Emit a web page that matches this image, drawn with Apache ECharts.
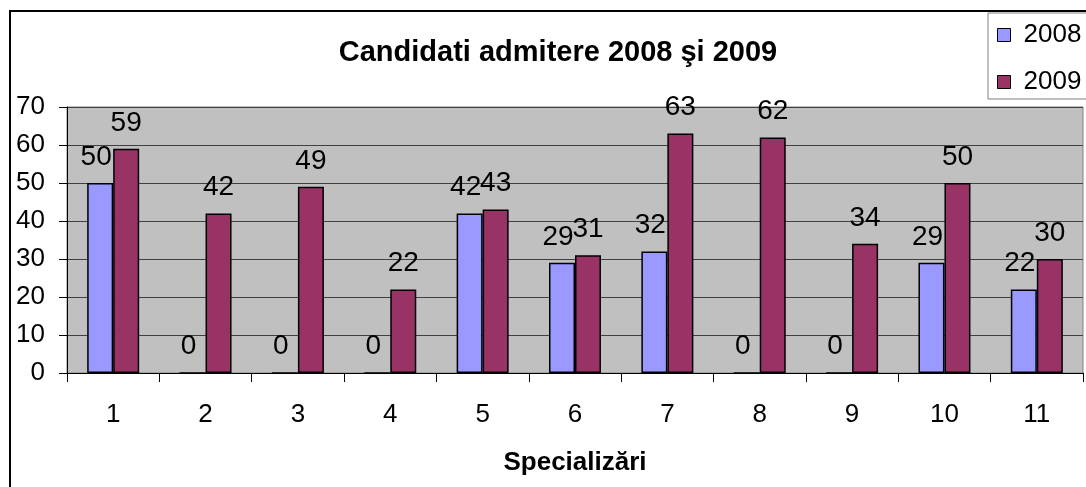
<!DOCTYPE html>
<html>
<head>
<meta charset="utf-8">
<script src="https://cdn.jsdelivr.net/npm/echarts@6/dist/echarts.min.js"></script>
<style>
html,body{margin:0;padding:0;background:#fff;}
#main{width:1086px;height:487px;}
</style>
</head>
<body>
<div id="main"></div>
<script>
var categories = ['1','2','3','4','5','6','7','8','9','10','11'];
var ani2008 = [50, 0, 0, 0, 42, 29, 32, 0, 0, 29, 22];
var ani2009 = [59, 42, 49, 22, 43, 31, 63, 62, 34, 50, 30];
var yTicks = [0, 10, 20, 30, 40, 50, 60, 70];

var myChart = echarts.init(document.getElementById('main'));

var font = 'Liberation Sans, Arial, sans-serif';

option = {
    animation: false,
    backgroundColor: '#fff',
    title: {
        text: 'Candidati admitere 2008 şi 2009',
        left: 553,
        top: 33,
        textAlign: 'center',
        textStyle: {
            fontFamily: font,
            fontSize: 29,
            fontWeight: 'bold',
            color: '#000'
        }
    },
    legend: {
        orient: 'vertical',
        left: 988,
        top: 13,
        itemWidth: 13,
        itemHeight: 13,
        itemGap: 21,
        padding: [9, 20, 4, 9],
        borderColor: '#808080',
        borderWidth: 1,
        icon: 'rect',
        itemStyle: {borderColor: '#000', borderWidth: 1},
        textStyle: {
            fontFamily: font,
            fontSize: 26,
            color: '#000',
            padding: [0, 0, 0, 8]
        },
        data: ['2008', '2009']
    },
    graphic: [
        {
            type: 'rect',
            shape: {x: 10, y: 11, width: 1100, height: 500},
            style: {fill: 'none', stroke: '#000', lineWidth: 2},
            z: 0,
            silent: true
        }
    ],
    grid: {
        left: 67,
        right: 3,
        top: 107,
        bottom: 114,
        show: true,
        backgroundColor: '#c0c0c0',
        borderColor: '#808080',
        borderWidth: 1
    },
    xAxis: {
        type: 'category',
        data: categories,
        name: 'Specializări',
        nameLocation: 'middle',
        nameGap: 77,
        nameTextStyle: {
            fontFamily: font,
            fontSize: 26,
            fontWeight: 'bold',
            color: '#000'
        },
        axisLine: {lineStyle: {color: '#000', width: 1}},
        axisTick: {show: true, length: 9, lineStyle: {color: '#000'}},
        axisLabel: {
            margin: 29,
            fontFamily: font,
            fontSize: 26,
            color: '#000'
        }
    },
    yAxis: {
        type: 'value',
        min: 0,
        max: 70,
        interval: 10,
        axisLine: {show: true, lineStyle: {color: '#000', width: 1}},
        axisTick: {show: true, length: 8, lineStyle: {color: '#000'}},
        axisLabel: {
            margin: 22,
            fontFamily: font,
            fontSize: 26,
            color: '#000',
            formatter: function (v) { return yTicks.indexOf(v) >= 0 ? v : ''; }
        },
        splitLine: {lineStyle: {color: '#404040', width: 1}}
    },
    series: [
        {
            name: '2008',
            type: 'bar',
            data: ani2008,
            barWidth: 26,
            barGap: '0%',
            itemStyle: {color: '#9999ff', borderColor: '#000', borderWidth: 1.5},
            label: {
                show: true,
                position: 'top',
                distance: 12,
                offset: [-4, 0],
                fontFamily: font,
                fontSize: 28,
                color: '#000'
            }
        },
        {
            name: '2009',
            type: 'bar',
            data: ani2009,
            barWidth: 26,
            barGap: '0%',
            itemStyle: {color: '#993366', borderColor: '#000', borderWidth: 1.5},
            label: {
                show: true,
                position: 'top',
                distance: 12,
                fontFamily: font,
                fontSize: 28,
                color: '#000'
            }
        }
    ]
};
myChart.setOption(option);
</script>
</body>
</html>
